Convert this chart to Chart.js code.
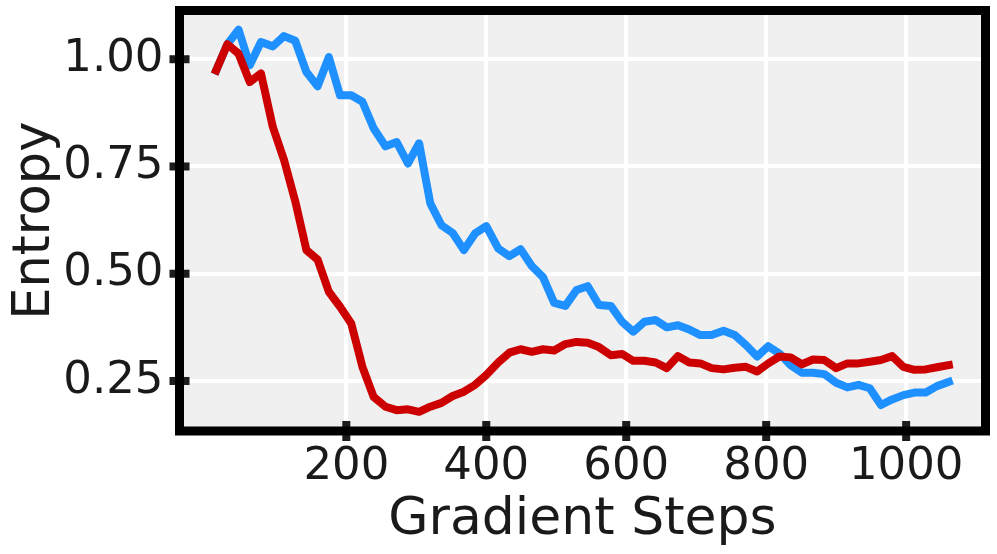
<!DOCTYPE html>
<html>
<head>
<meta charset="utf-8">
<script src="https://cdn.jsdelivr.net/npm/chart.js@4/dist/chart.umd.min.js"></script>
<style>
  html, body { margin: 0; padding: 0; background: #ffffff; }
  #wrap { width: 997px; height: 554px; position: relative; }
</style>
</head>
<body>
<div id="wrap"><canvas id="c" width="997" height="554"></canvas></div>
<script>
// ---- data ----
const steps = [14, 30, 46, 62, 78, 95, 111, 127, 143, 159, 175, 191, 207, 223, 239, 256, 272, 288, 304, 320,
  336, 352, 368, 384, 400, 417, 433, 449, 465, 481, 497, 513, 529, 545, 561, 578, 594, 610, 626, 642,
  658, 674, 690, 706, 722, 739, 755, 771, 787, 803, 819, 835, 851, 867, 883, 900, 916, 932, 948, 964,
  980, 996, 1012, 1028, 1044, 1061];

const blueEntropy = [0.974, 1.035, 1.069, 0.986, 1.040, 1.030, 1.054, 1.043, 0.970, 0.937,
  1.005, 0.916, 0.916, 0.901, 0.839, 0.797, 0.807, 0.757, 0.804, 0.664,
  0.613, 0.595, 0.555, 0.594, 0.611, 0.559, 0.541, 0.557, 0.518, 0.492,
  0.432, 0.425, 0.462, 0.471, 0.427, 0.425, 0.388, 0.365, 0.388, 0.392,
  0.375, 0.380, 0.370, 0.357, 0.357, 0.367, 0.357, 0.334, 0.307, 0.331,
  0.314, 0.287, 0.269, 0.269, 0.266, 0.246, 0.235, 0.241, 0.233, 0.194,
  0.207, 0.217, 0.223, 0.223, 0.238, 0.248];

const redEntropy = [0.974, 1.035, 1.013, 0.947, 0.967, 0.842, 0.765, 0.669, 0.555, 0.533,
  0.458, 0.423, 0.384, 0.283, 0.213, 0.190, 0.182, 0.184, 0.178, 0.190,
  0.199, 0.215, 0.225, 0.241, 0.264, 0.293, 0.316, 0.324, 0.318, 0.324,
  0.321, 0.336, 0.341, 0.339, 0.329, 0.310, 0.313, 0.297, 0.297, 0.293,
  0.280, 0.308, 0.293, 0.291, 0.280, 0.277, 0.281, 0.283, 0.272, 0.291,
  0.307, 0.305, 0.289, 0.300, 0.299, 0.280, 0.291, 0.291, 0.295, 0.299,
  0.308, 0.283, 0.276, 0.277, 0.282, 0.287];

const xTicks = [200, 400, 600, 800, 1000];
const yTicks = [0.25, 0.50, 0.75, 1.00];

const xRange = [-38.4, 1113.4];
const yRange = [0.1334, 1.1136];

// ---- chart ----
const AREA = { left: 179.5, right: 985.5, top: 10.5, bottom: 431 };
const W = 997, H = 554;

function pts(ys) { return steps.map((s, i) => ({ x: s, y: ys[i] })); }

const framePlugin = {
  id: 'frame',
  beforeDraw(chart) {
    const { ctx, chartArea: a } = chart;
    ctx.save();
    ctx.fillStyle = '#f0f0f0';
    ctx.fillRect(a.left, a.top, a.right - a.left, a.bottom - a.top);
    ctx.restore();
  },
  afterDatasetsDraw(chart) {
    const { ctx, chartArea: a, scales } = chart;
    ctx.save();
    ctx.fillStyle = '#1c1c1c';
    const tl = 10, tw = 8;
    yTicks.forEach(v => {
      const y = scales.y.getPixelForValue(v);
      ctx.fillRect(a.left - tl, y - tw / 2, 2 * tl, tw);
    });
    xTicks.forEach(v => {
      const x = scales.x.getPixelForValue(v);
      ctx.fillRect(x - tw / 2, a.bottom - tl, tw, 2 * tl);
    });
    ctx.strokeStyle = '#000000';
    ctx.lineWidth = 9;
    ctx.lineJoin = 'miter';
    ctx.strokeRect(a.left, a.top, a.right - a.left, a.bottom - a.top);
    ctx.restore();
  }
};

new Chart(document.getElementById('c'), {
  type: 'line',
  data: {
    datasets: [
      {
        label: 'blue',
        data: pts(blueEntropy),
        borderColor: '#1e90ff',
        backgroundColor: '#1e90ff',
        borderWidth: 8,
        pointRadius: 0,
        tension: 0,
        borderJoinStyle: 'round',
        borderCapStyle: 'square',
        order: 2
      },
      {
        label: 'red',
        data: pts(redEntropy),
        borderColor: '#cc0000',
        backgroundColor: '#cc0000',
        borderWidth: 8,
        pointRadius: 0,
        tension: 0,
        borderJoinStyle: 'round',
        borderCapStyle: 'square',
        order: 1
      }
    ]
  },
  options: {
    responsive: false,
    animation: false,
    devicePixelRatio: 1,
    layout: { padding: { top: AREA.top, right: W - AREA.right, left: 0, bottom: 0 } },
    plugins: { legend: { display: false }, tooltip: { enabled: false } },
    scales: {
      x: {
        type: 'linear',
        min: xRange[0], max: xRange[1],
        afterBuildTicks(s) { s.ticks = xTicks.map(v => ({ value: v })); },
        afterFit(s) { s.height = H - AREA.bottom; s.paddingLeft = 0; s.paddingRight = 0; },
        grid: { color: '#ffffff', lineWidth: 4, drawTicks: false },
        border: { display: false },
        ticks: {
          padding: 9,
          color: '#1a1a1a',
          maxRotation: 0,
          autoSkip: false,
          font: { family: 'DejaVu Sans', size: 45 },
          callback: v => String(v)
        },
        title: {
          display: true,
          text: 'Gradient Steps',
          color: '#1a1a1a',
          font: { family: 'DejaVu Sans', size: 52, lineHeight: 1.2 },
          padding: { top: 0, bottom: 2 }
        }
      },
      y: {
        type: 'linear',
        min: yRange[0], max: yRange[1],
        afterBuildTicks(s) { s.ticks = yTicks.map(v => ({ value: v })); },
        afterFit(s) { s.width = AREA.left; s.paddingTop = 0; s.paddingBottom = 0; },
        grid: { color: '#ffffff', lineWidth: 4, drawTicks: false },
        border: { display: false },
        ticks: {
          padding: 16,
          color: '#1a1a1a',
          autoSkip: false,
          font: { family: 'DejaVu Sans', size: 45 },
          callback: v => v.toFixed(2)
        },
        title: {
          display: true,
          text: 'Entropy',
          color: '#1a1a1a',
          font: { family: 'DejaVu Sans', size: 51, lineHeight: 1.2 },
          padding: { top: 5, bottom: 0 }
        }
      }
    }
  },
  plugins: [framePlugin]
});
</script>
</body>
</html>
